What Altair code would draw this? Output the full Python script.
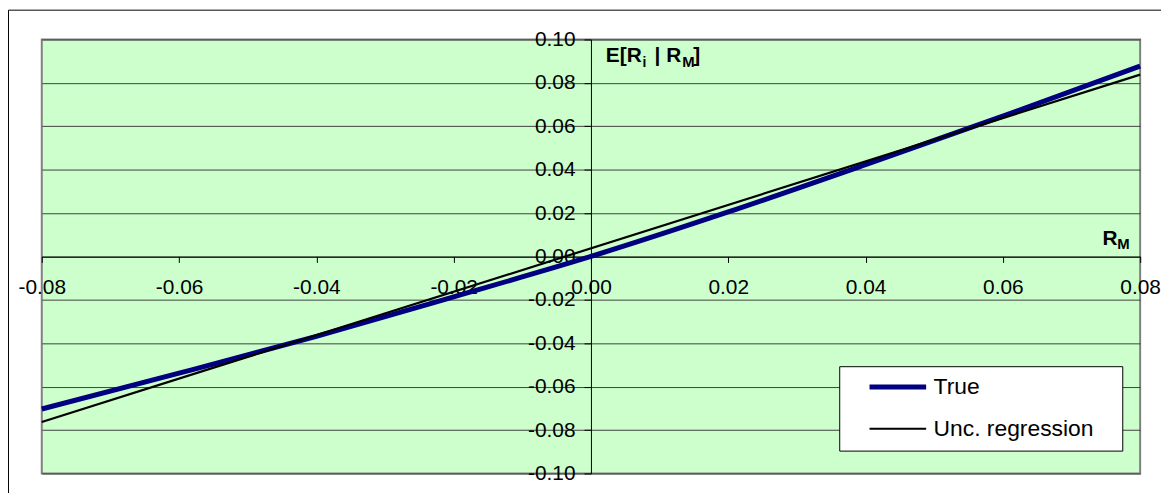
import altair as alt
import pandas as pd

# ---- data ----
series_names = ["True", "Unc. regression"]
true_x = [-0.08, -0.06, -0.04, -0.02, 0.0, 0.02, 0.04, 0.06, 0.08]
true_y = [-0.0703, -0.0538, -0.0368, -0.0186, 0.0, 0.0205, 0.0423, 0.0647, 0.0877]
reg_x = [-0.08, 0.08]
reg_y = [-0.0763, 0.0838]

x_ticks = [-0.08, -0.06, -0.04, -0.02, 0.0, 0.02, 0.04, 0.06, 0.08]
y_ticks = [-0.10, -0.08, -0.06, -0.04, -0.02, 0.0, 0.02, 0.04, 0.06, 0.08, 0.10]

W, H = 1106, 437
FONT = "Liberation Sans"
LABEL = "datum.value < 0 ? '-' + format(-datum.value, '.2f') : format(datum.value, '.2f')"

rows = [{"series": series_names[0], "x": a, "y": b} for a, b in zip(true_x, true_y)]
rows += [{"series": series_names[1], "x": a, "y": b} for a, b in zip(reg_x, reg_y)]
df = pd.DataFrame(rows)

xscale = alt.Scale(domain=[-0.08, 0.08], nice=False, zero=False)
yscale = alt.Scale(domain=[-0.10, 0.10], nice=False, zero=False)

x_enc = alt.X(
    "x:Q", scale=xscale,
    axis=alt.Axis(values=x_ticks, labelExpr=LABEL, offset=-H / 2, grid=False,
                  labelFlush=False, labelOverlap=False, tickSize=6, tickColor="black",
                  domainColor="black", labelFontSize=21, labelFont=FONT, labelColor="black",
                  labelPadding=14, title=None),
)
y_enc = alt.Y(
    "y:Q", scale=yscale,
    axis=alt.Axis(values=y_ticks, labelExpr=LABEL, offset=-W / 2, grid=True,
                  gridColor="#404040", gridWidth=1, labelFlush=False, labelOverlap=False,
                  tickSize=7, tickColor="black", domainColor="black", labelFontSize=21,
                  labelFont=FONT, labelColor="black", labelPadding=9, title=None),
)

legend = alt.Legend(
    title=None, orient="none", legendX=831, legendY=337, clipHeight=26, rowPadding=16,
    padding=0, symbolType="stroke", symbolSize=3249, symbolOffset=0, labelOffset=5,
    labelFontSize=23, labelFont=FONT, labelColor="black", labelLimit=400,
)

lines = alt.Chart(df).mark_line(interpolate="monotone").encode(
    x=x_enc,
    y=y_enc,
    color=alt.Color("series:N", scale=alt.Scale(domain=series_names, range=["#000080", "#000000"]),
                    legend=legend, sort=series_names),
    strokeWidth=alt.StrokeWidth("series:N", scale=alt.Scale(domain=series_names, range=[5, 2.2]),
                                legend=legend, sort=series_names),
)

# decorative outer border and legend box
outer = alt.Chart(pd.DataFrame({"k": [0]})).mark_rect(fill=None, stroke="black", strokeWidth=1).encode(
    x=alt.value(-33.5), x2=alt.value(W + 200), y=alt.value(-29.5), y2=alt.value(H + 200)
)
legbox = alt.Chart(pd.DataFrame({"k": [0]})).mark_rect(fill="white", stroke="black", strokeWidth=1).encode(
    x=alt.value(803.5), x2=alt.value(1088.5), y=alt.value(329.5), y2=alt.value(414.5)
)

# axis titles with subscripts
ytitle_anchor = pd.DataFrame({"x": [0.0], "y": [0.10]})
xtitle_anchor = pd.DataFrame({"x": [0.08], "y": [0.0]})

def txt(data, text, dx, dy, size):
    return alt.Chart(data).mark_text(
        text=text, align="left", baseline="alphabetic", dx=dx, dy=dy, fontSize=size,
        fontWeight="bold", font=FONT, color="black"
    ).encode(x=alt.X("x:Q", scale=xscale), y=alt.Y("y:Q", scale=yscale))

ytitle = [
    txt(ytitle_anchor, "E[R", 15, 23, 21),
    txt(ytitle_anchor, "i", 52, 28, 14),
    txt(ytitle_anchor, "| R", 64, 23, 21),
    txt(ytitle_anchor, "M", 92, 28, 15),
    txt(ytitle_anchor, "]", 103, 23, 21),
]
xtitle = [
    txt(xtitle_anchor, "R", -38, -12, 21),
    txt(xtitle_anchor, "M", -23, -8, 15),
]

chart = alt.layer(outer, legbox, lines, *ytitle, *xtitle).properties(
    width=W, height=H,
    autosize=alt.AutoSizeParams(type="none"),
    padding={"left": 34, "top": 30, "right": 21, "bottom": 18},
    background="white",
).configure_view(
    fill="#CCFFCC", stroke="#808080", strokeWidth=2
)

chart.save("out.html", embed_options={"renderer": "svg", "actions": False})
